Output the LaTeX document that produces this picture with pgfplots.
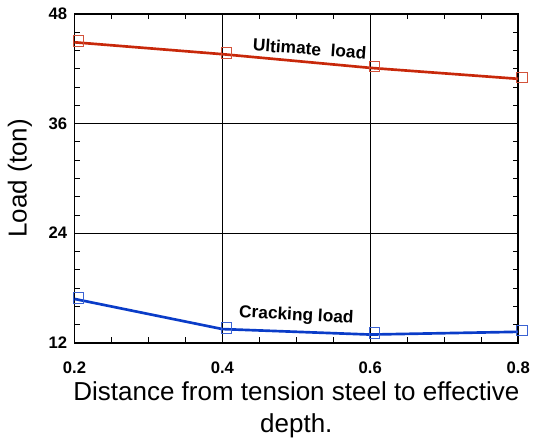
\documentclass[border=0pt]{standalone}
\usepackage{pgfplots}
\pgfplotsset{compat=1.18}
\usepackage{fontspec}
\setmainfont{Liberation Sans}
\definecolor{ured}{RGB}{200,40,10}
\definecolor{cblue}{RGB}{10,60,200}
\begin{document}
\begin{tikzpicture}
\begin{axis}[
  at={(0pt,0pt)}, anchor=south west,
  scale only axis, width=333pt, height=246.75pt,
  xmin=0.2, xmax=0.8, ymin=12, ymax=48,
  xtick={0.2,0.4,0.6,0.8},
  xticklabels={0.2,0.4,0.6,0.8},
  ytick={12,24,36,48},
  minor x tick num=3, minor y tick num=5,
  grid=major, major grid style={black, line width=0.6pt},
  axis line style={line width=1.1pt},
  tick style={black, line width=0.6pt},
  major tick length=5pt, minor tick length=4pt,
  tick align=inside,
  xticklabel style={font=\fontsize{12.5}{14}\selectfont\bfseries, yshift=-11pt},
  yticklabel style={font=\fontsize{12.5}{14}\selectfont\bfseries, xshift=-2pt},
  /pgf/number format/assume math mode=true,
  xlabel={Distance from tension steel to effective\\depth.},
  xlabel style={font=\fontsize{19.5}{24}\selectfont, align=center, yshift=1pt},
  ylabel={Load (ton)},
  ylabel style={font=\fontsize{19.5}{22}\selectfont, yshift=5.5pt},
  clip=false,
]
\addplot[ured, line width=2pt, mark=square, mark size=4pt, mark options={draw=ured!80, line width=0.6pt, xshift=3pt, yshift=1pt}] coordinates {
 (0.2,44.9) (0.4,43.6) (0.6,42.1) (0.8,40.9)};
\addplot[cblue, line width=2pt, mark=square, mark size=4pt, mark options={draw=cblue!80, line width=0.6pt, xshift=3pt, yshift=1pt}] coordinates {
 (0.2,16.8) (0.4,13.5) (0.6,12.9) (0.8,13.2)};
\node[font=\fontsize{13}{15}\selectfont\bfseries, rotate=-4] at (axis cs:0.518,44.2) {Ultimate\ \ load};
\node[font=\fontsize{13}{15}\selectfont\bfseries, rotate=-3] at (axis cs:0.5,14.95) {Cracking load};
\end{axis}
\pgfresetboundingbox
\path[use as bounding box] (-55.9pt,-73.5pt) rectangle (344.1pt,257.25pt);
\end{tikzpicture}
\end{document}
